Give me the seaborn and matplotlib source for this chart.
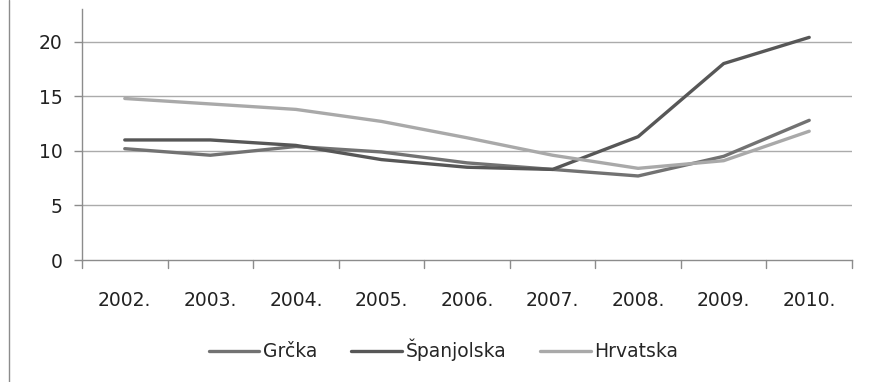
"""
Unemployment rate line chart - Greece, Spain, Croatia 2002-2010.
"""
import matplotlib
matplotlib.use('Agg')
import matplotlib.pyplot as plt
from matplotlib.lines import Line2D
import seaborn as sns
import pandas as pd

# Data
years = ["2002.", "2003.", "2004.", "2005.", "2006.", "2007.", "2008.", "2009.", "2010."]
grcka = [10.2, 9.6, 10.4, 9.9, 8.9, 8.3, 7.7, 9.5, 12.8]
spanjolska = [11.0, 11.0, 10.5, 9.2, 8.5, 8.3, 11.3, 18.0, 20.4]
hrvatska = [14.8, 14.3, 13.8, 12.7, 11.2, 9.6, 8.4, 9.1, 11.8]
series_names = ["Grčka", "Španjolska", "Hrvatska"]
y_ticks = [0, 5, 10, 15, 20]

df = pd.DataFrame({
    "idx": list(range(len(years))) * 3,
    "value": grcka + spanjolska + hrvatska,
    "country": [n for n in series_names for _ in years],
})

sns.set_style("white")
plt.rcParams['font.family'] = ['DejaVu Sans']

fig = plt.figure(figsize=(8.7, 3.82), dpi=100)
ax = fig.add_axes([82 / 870, 1 - 260 / 382, 770 / 870, 251 / 382])

palette = {"Grčka": "#727272", "Španjolska": "#575757", "Hrvatska": "#a9a9a9"}
sns.lineplot(data=df, x="idx", y="value", hue="country", palette=palette,
             linewidth=2.4, ax=ax, legend=False, sort=False)

fs = 13.5
ax.set_xlim(-0.5, len(years) - 0.5)
ax.set_ylim(0, 23)
ax.set_yticks(y_ticks)
ax.set_yticklabels([str(t) for t in y_ticks], fontsize=fs, color="#222222")
ax.set_xticks(range(len(years)))
ax.set_xticklabels(years, fontsize=fs, color="#222222")
ax.tick_params(axis='x', length=0, pad=22)
ax.tick_params(axis='y', length=6, width=1.0, color="#8c8c8c", direction='out', pad=8, left=True)
ax.set_xlabel("")
ax.set_ylabel("")

# gridlines
for t in y_ticks[1:]:
    ax.axhline(t, color="#ababab", linewidth=1.0, zorder=0)

# spines
for s in ["top", "right"]:
    ax.spines[s].set_visible(False)
for s in ["left", "bottom"]:
    ax.spines[s].set_color("#8c8c8c")
    ax.spines[s].set_linewidth(1.0)

# category boundary ticks below the x axis
for b in range(len(years) + 1):
    ax.plot([b - 0.5, b - 0.5], [0, -0.75], color="#8c8c8c", linewidth=1.0,
            clip_on=False, zorder=1)

# legend
handles = [Line2D([0], [0], color=palette[n], linewidth=2.4) for n in series_names]
fig.legend(handles, series_names, loc="center", bbox_to_anchor=(0.51, 1 - 350 / 382),
           ncol=3, frameon=False, fontsize=fs, handlelength=2.7,
           handletextpad=0.2, columnspacing=1.8)

# chart border on the left
fig.add_artist(Line2D([9 / 870, 9 / 870], [0, 1], color="#8c8c8c", linewidth=1.0))

fig.savefig("out.png", dpi=100, facecolor="white")
